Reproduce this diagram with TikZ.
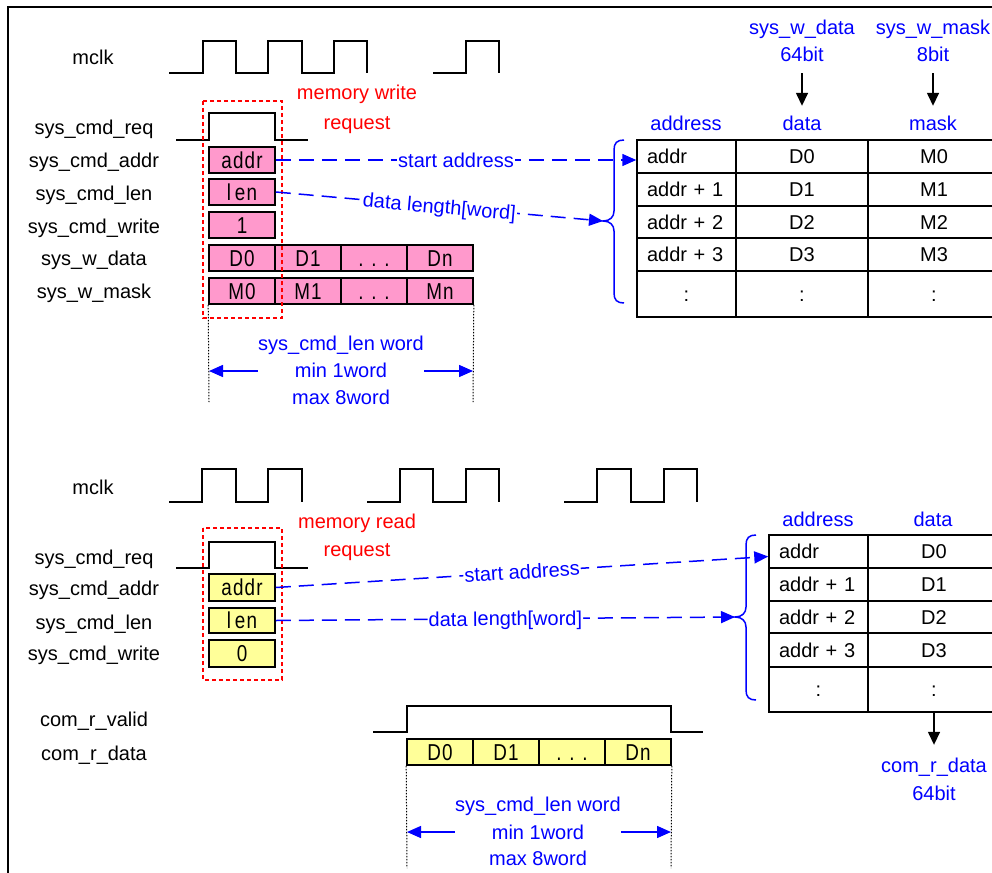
\documentclass[tikz,border=0pt]{standalone}
\usepackage{fontspec}
\setmainfont{Liberation Sans}
\newfontfamily\boxfont[FakeStretch=0.82, LetterSpace=5]{Liberation Sans}
\usetikzlibrary{arrows.meta}
\definecolor{pinkf}{HTML}{FF99CC}
\definecolor{yellf}{HTML}{FFFF99}
\definecolor{bl}{RGB}{0,0,255}
\definecolor{rd}{RGB}{255,0,0}
\begin{document}
\begin{tikzpicture}[x=1pt,y=-1pt,
  lbl/.style={font=\fontsize{20}{24}\selectfont, inner sep=0pt, text height=14pt, text depth=0pt},
  bluetxt/.style={lbl, text=bl},
  redtxt/.style={lbl, text=rd},
  wave/.style={line width=1.6pt, line join=miter},
  pbox/.style={draw, line width=1.6pt, fill=pinkf, minimum width=66pt, minimum height=26pt, inner sep=0pt,
    text height=16.5pt, text depth=0pt, font=\boxfont\fontsize{23}{23}\selectfont},
  ybox/.style={pbox, fill=yellf},
  cell/.style={draw, line width=1.5pt, inner sep=0pt, text height=14pt, text depth=0pt, font=\fontsize{20}{24}\selectfont},
  acell/.style={cell, text width=79pt, inner xsep=10pt, align=left},
  reqbox/.style={draw=rd, line width=2.6pt, dash pattern=on 4pt off 3pt},
  dline/.style={draw=bl, line width=1.5pt, dash pattern=on 15pt off 8pt},
  barr/.style={-{Triangle[length=14pt,width=12pt]}},
  karr/.style={line width=1.5pt, -{Triangle[length=13pt,width=12pt]}},
  dimarr/.style={draw=bl, line width=1.5pt, -{Triangle[length=14pt,width=12pt]}},
  dotl/.style={line width=1pt, dash pattern=on 1.5pt off 1.5pt},
  brace/.style={draw=bl, line width=1.5pt},
  onl/.style={bluetxt, midway, sloped, fill=white, inner xsep=1pt}
]
\useasboundingbox (0,0) rectangle (992,872);
\clip (0,0) rectangle (992,872);
\fill[white] (0,0) rectangle (992,872);
\draw[line width=2pt] (8,7) rectangle (1010,890);

% ================= WRITE =================
\node[lbl] (wlclk) at (93,58) {mclk};
\node[lbl] (wlreq) at (94,127) {sys\_cmd\_req};
\node[lbl] (wladdr) at (94,160) {sys\_cmd\_addr};
\node[lbl] (wllen) at (94,193) {sys\_cmd\_len};
\node[lbl] (wlwr) at (94,226) {sys\_cmd\_write};
\node[lbl] (wlwd) at (94,258) {sys\_w\_data};
\node[lbl] (wlwm) at (94,291) {sys\_w\_mask};

\draw[wave] (169,73) -| (203,41) -| (236,73) -| (268,41) -| (302,73) -| (334,41) -| (367,73);
\draw[wave] (433,73) -| (466,41) -| (499,73);
\draw[wave] (176,140) -| (209,113) -| (275,140) -- (308,140);

\node[pbox] (waddr) at (242,160) {addr};
\node[pbox] (wlen) at (242,192) {l\,en};
\node[pbox] (wwr) at (242,225) {1};
\node[pbox] (wd0) at (242,258) {D0};
\node[pbox] (wd1) at (308,258) {D1};
\node[pbox] (wd2) at (374,258) {.\,\,.\,\,.};
\node[pbox] (wdn) at (440,258) {Dn};
\node[pbox] (wm0) at (242,291) {M0};
\node[pbox] (wm1) at (308,291) {M1};
\node[pbox] (wm2) at (374,291) {.\,\,.\,\,.};
\node[pbox] (wmn) at (440,291) {Mn};

\draw[reqbox] (203,101) rectangle (282,318);
\node[redtxt] (wmw1) at (357,93) {memory write};
\node[redtxt] (wmw2) at (357,122) {request};

\coordinate (wdl) at (209,402);
\coordinate (wdr) at (473,402);
\draw[dotl] (wm0.south west) -- (wdl);
\draw[dotl] (wmn.south east) -- (wdr);
\node[bluetxt] (wt1) at (341,343) {sys\_cmd\_len word};
\node[bluetxt] (wt2) at (341,370) {min 1word};
\node[bluetxt] (wt3) at (341,397) {max 8word};
\draw[dimarr] (wt1.west |- 0,371) -- (wdl |- 0,371);
\draw[dimarr] (wt1.east |- 0,371) -- (wdr |- 0,371);

% write table
\node[bluetxt] (whaddr) at (686,123) {address};
\node[bluetxt] (whdata) at (802,123) {data};
\node[bluetxt] (whmask) at (933,123) {mask};
\node[bluetxt] (wsd1) at (802,28) {sys\_w\_data};
\node[bluetxt] (wsd2) at (802,55) {64bit};
\node[bluetxt] (wsm1) at (933,28) {sys\_w\_mask};
\node[bluetxt] (wsm2) at (933,55) {8bit};
\draw[karr, shorten <=11pt, shorten >=10pt] (wsd2.south) -- (whdata.north);
\draw[karr, shorten <=11pt, shorten >=10pt] (wsm2.south) -- (whmask.north);

\node[acell, minimum height=33pt] (ta1) at (686.5,156.5) {addr};
\node[acell, minimum height=33pt] (ta2) at (686.5,189.5) {addr + 1};
\node[acell, minimum height=32pt] (ta3) at (686.5,222) {addr + 2};
\node[acell, minimum height=33pt] (ta4) at (686.5,254.5) {addr + 3};
\node[cell, minimum width=99pt, minimum height=46pt] (ta5) at (686.5,294) {:};
\node[cell, minimum width=132pt, minimum height=33pt] (td1) at (802,156.5) {D0};
\node[cell, minimum width=132pt, minimum height=33pt] (td2) at (802,189.5) {D1};
\node[cell, minimum width=132pt, minimum height=32pt] (td3) at (802,222) {D2};
\node[cell, minimum width=132pt, minimum height=33pt] (td4) at (802,254.5) {D3};
\node[cell, minimum width=132pt, minimum height=46pt] (td5) at (802,294) {:};
\node[cell, minimum width=132pt, minimum height=33pt] (tm1) at (934,156.5) {M0};
\node[cell, minimum width=132pt, minimum height=33pt] (tm2) at (934,189.5) {M1};
\node[cell, minimum width=132pt, minimum height=32pt] (tm3) at (934,222) {M2};
\node[cell, minimum width=132pt, minimum height=33pt] (tm4) at (934,254.5) {M3};
\node[cell, minimum width=132pt, minimum height=46pt] (tm5) at (934,294) {:};

\draw[brace] (624,140) .. controls (617,140) and (614,143) .. (614,150) -- (614,211)
  .. controls (614,217) and (610,221) .. (603,221) .. controls (610,221) and (614,225) .. (614,231)
  -- (614,293) .. controls (614,300) and (617,303) .. (624,303);
\coordinate (wtip) at (603,221);

\draw[dline, barr] (waddr.east) -- (ta1.west |- waddr.east) node[onl] (wsa) {start address};
\draw[dline, barr] (wlen.east) -- (wtip) node[onl] (wdlen) {data length[word]};

% ================= READ =================
\node[lbl] (rlclk) at (93,487) {mclk};
\node[lbl] (rlreq) at (94,557) {sys\_cmd\_req};
\node[lbl] (rladdr) at (94,588) {sys\_cmd\_addr};
\node[lbl] (rllen) at (94,622) {sys\_cmd\_len};
\node[lbl] (rlwr) at (94,653) {sys\_cmd\_write};
\node[lbl] (rlval) at (94,719) {com\_r\_valid};
\node[lbl] (rldat) at (94,753) {com\_r\_data};

\draw[wave] (169,502) -| (202,469) -| (236,502) -| (268,469) -| (302,502);
\draw[wave] (367,502) -| (400,469) -| (433,502) -| (466,469) -| (499,502);
\draw[wave] (564,502) -| (597,469) -| (631,502) -| (664,469) -| (697,502);
\draw[wave] (176,568) -| (209,542) -| (275,568) -- (308,568);
\draw[wave] (373,732) -| (407,706) -| (671,732) -- (703,732);

\node[ybox, minimum height=27pt] (raddr) at (242,587.5) {addr};
\node[ybox, minimum height=25pt] (rlen) at (242,620.5) {l\,en};
\node[ybox, minimum height=27pt] (rwr) at (242,653.5) {0};

\draw[reqbox] (203,528) rectangle (282,680);
\node[redtxt] (rmr1) at (357,521) {memory read};
\node[redtxt] (rmr2) at (357,549) {request};

\node[ybox] (rd0) at (440,752) {D0};
\node[ybox] (rd1) at (506,752) {D1};
\node[ybox] (rd2) at (572,752) {.\,\,.\,\,.};
\node[ybox] (rdn) at (638,752) {Dn};

\coordinate (rdl) at (407,868);
\coordinate (rdr) at (671,868);
\draw[dotl] (rd0.south west) -- (rdl);
\draw[dotl] (rdn.south east) -- (rdr);
\node[bluetxt] (rt1) at (538,804) {sys\_cmd\_len word};
\node[bluetxt] (rt2) at (538,832) {min 1word};
\node[bluetxt] (rt3) at (538,858) {max 8word};
\draw[dimarr] (rt1.west |- 0,832) -- (rdl |- 0,832);
\draw[dimarr] (rt1.east |- 0,832) -- (rdr |- 0,832);

% read table
\node[bluetxt] (rhaddr) at (818,519) {address};
\node[bluetxt] (rhdata) at (933,519) {data};
\node[acell, minimum height=33pt] (ra1) at (818.5,551.5) {addr};
\node[acell, minimum height=33pt] (ra2) at (818.5,584.5) {addr + 1};
\node[acell, minimum height=32pt] (ra3) at (818.5,617) {addr + 2};
\node[acell, minimum height=34pt] (ra4) at (818.5,650) {addr + 3};
\node[cell, minimum width=99pt, minimum height=45pt] (ra5) at (818.5,689.5) {:};
\node[cell, minimum width=132pt, minimum height=33pt] (rb1) at (934,551.5) {D0};
\node[cell, minimum width=132pt, minimum height=33pt] (rb2) at (934,584.5) {D1};
\node[cell, minimum width=132pt, minimum height=32pt] (rb3) at (934,617) {D2};
\node[cell, minimum width=132pt, minimum height=34pt] (rb4) at (934,650) {D3};
\node[cell, minimum width=132pt, minimum height=45pt] (rb5) at (934,689.5) {:};

\node[bluetxt] (rcd1) at (934,765) {com\_r\_data};
\node[bluetxt] (rcd2) at (934,793) {64bit};
\draw[karr, shorten >=13pt] (rb5.south) -- (rcd1.north);

\draw[brace] (756,535) .. controls (749,535) and (746,538) .. (746,545) -- (746,607)
  .. controls (746,613) and (742,617) .. (735,617) .. controls (742,617) and (746,621) .. (746,627)
  -- (746,690) .. controls (746,697) and (749,700) .. (756,700);
\coordinate (rtip) at (735,617);

\draw[dline, barr] (raddr.east) -- ([yshift=-5pt]ra1.west) node[onl] (rsa) {start address};
\draw[dline, barr] (rlen.east) -- (rtip) node[onl] (rdlen) {data length[word]};
\end{tikzpicture}
\end{document}
